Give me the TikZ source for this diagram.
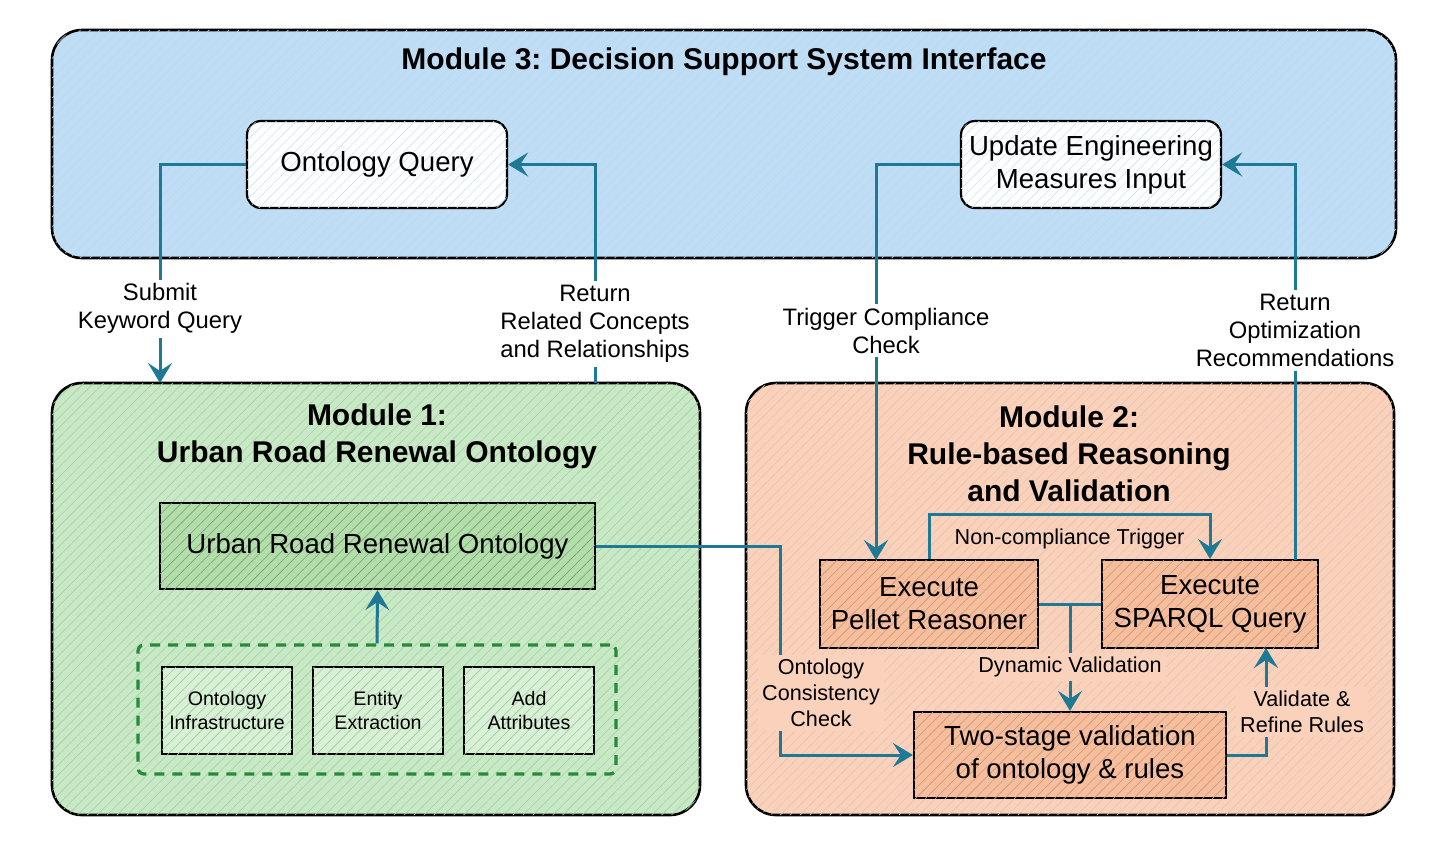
\documentclass[tikz,border=0pt]{standalone}
\usepackage{fontspec}
\setmainfont{Liberation Sans}
\usepackage{xcolor}
\usepackage{tikz}
\usetikzlibrary{arrows.meta, positioning, patterns.meta}
\definecolor{FlowTeal}{RGB}{30, 122, 148}
\definecolor{SysBlue}{RGB}{190, 221, 246}
\definecolor{OntoGreen}{RGB}{199, 234, 197}
\definecolor{OntoDark}{RGB}{178, 222, 170}
\definecolor{RuleSalmon}{RGB}{250, 210, 188}
\definecolor{RuleDark}{RGB}{247, 190, 157}
\definecolor{DashGreen}{RGB}{38, 138, 58}
\frenchspacing

\begin{document}
\begin{tikzpicture}[x=0.5pt, y=-0.5pt,
    hatch/.style={postaction={pattern={Lines[angle=45, distance=3.5pt, line width=0.3pt]}, pattern color=#1}},
    module/.style={draw=black, line width=1.3pt, rounded corners=15pt},
    modtitle/.style={font=\fontsize{15}{18.5}\selectfont\bfseries, align=center},
    uibox/.style={draw=black, line width=1.1pt, rounded corners=7pt, fill=white,
      hatch=SysBlue!80, font=\fontsize{13.8}{16.5}\selectfont, align=center,
      minimum width=130pt, minimum height=43.5pt, inner sep=1pt},
    stepbox/.style={draw=black, line width=1.1pt, font=\fontsize{13.8}{16.5}\selectfont,
      align=center, inner sep=1pt},
    smallbox/.style={draw=black, line width=1.1pt, fill=OntoGreen!70!white, hatch=OntoDark!90!black,
      font=\fontsize{9.8}{12}\selectfont, align=center,
      minimum width=65pt, minimum height=43.5pt, inner sep=1pt},
    flow/.style={draw=FlowTeal, line width=1.5pt, -{Stealth[length=10pt, width=12pt, inset=4pt]}},
    flowline/.style={draw=FlowTeal, line width=1.5pt},
    lbl/.style={font=\fontsize{11.9}{14}\selectfont, align=center, inner sep=2pt},
    lblsm/.style={font=\fontsize{10.8}{13}\selectfont, align=center, inner sep=2pt}
  ]
  \useasboundingbox[fill=white] (0,0) rectangle (1440,843);

  % module frames
  \node[module, fill=SysBlue, hatch=SysBlue!85!black!60, minimum width=672pt, minimum height=114pt] (m3) at (724,144) {};
  \node[module, fill=OntoGreen, hatch=OntoDark!80!black!70, minimum width=324pt, minimum height=216pt] (m1) at (376,599) {};
  \node[module, fill=RuleSalmon, hatch=RuleDark!90!black!70, minimum width=324pt, minimum height=216pt] (m2) at (1070,599) {};

  \node[modtitle] (t3) at (724,62) {Module 3: Decision Support System Interface};
  \node[modtitle] (t1) at (377,436) {Module 1:\\Urban Road Renewal Ontology};
  \node[modtitle] (t2) at (1069,454) {Module 2:\\Rule-based Reasoning\\and Validation};

  % module 3
  \node[uibox] (oq) at (377,164.5) {Ontology Query};
  \node[uibox] (ue) at (1091,164.5) {Update Engineering\\Measures Input};

  % module 1
  \node[stepbox, fill=OntoDark, hatch=OntoDark!70!black, minimum width=217.5pt, minimum height=43pt] (urro) at (377.5,546) {Urban Road Renewal Ontology};
  \node[draw=DashGreen, line width=1.6pt, dash pattern=on 5pt off 4pt, rounded corners=3pt,
    minimum width=239pt, minimum height=64.5pt] (grp) at (377,709.5) {};
  \node[smallbox] (oi) at (227,710.5) {Ontology\\Infrastructure};
  \node[smallbox] (ee) at (378,710.5) {Entity\\Extraction};
  \node[smallbox] (aa) at (529,710.5) {Add\\Attributes};

  % module 2
  \node[stepbox, fill=RuleDark, hatch=RuleDark!80!black, minimum width=109pt, minimum height=44pt] (pellet) at (929,604) {Execute\\Pellet Reasoner};
  \node[stepbox, fill=RuleDark, hatch=RuleDark!80!black, minimum width=108pt, minimum height=44pt] (sparql) at (1210,604) {Execute\\SPARQL Query};
  \node[stepbox, fill=RuleDark, hatch=RuleDark!80!black, minimum width=156pt, minimum height=43pt] (tv) at (1070,755) {Two-stage validation\\of ontology \& rules};

  \coordinate (kq) at (160,383);
  \coordinate (rc) at (595,383);
  \coordinate (tc) at (876,560);
  \coordinate (ro) at (1295,560);
  \coordinate (cc) at (780,650);
  \coordinate (vr) at (1266,648);

  % connectors
  \draw[flow] (oq.west) -| (kq) node[lbl, fill=white, pos=0.83] (kql) {Submit\\Keyword Query};
  \draw[flow] (rc) |- (oq.east) node[lbl, fill=white, pos=0.135] (rcl) {Return\\Related Concepts\\and Relationships};
  \draw[flow] (ue.west) -| (tc) node[lbl, fill=white, pos=0.71, xshift=5pt] (tcl) {Trigger Compliance\\Check};
  \draw[flow] (ro) |- (ue.east) node[lbl, fill=white, pos=0.29] (rol) {Return\\Optimization\\Recommendations};
  \draw[flow] (grp.north) -- (urro.south);
  \draw[flow] (pellet.north) -- ++(0,-44) -| (sparql.north) node[lblsm, pos=0.25, below=4pt] (nct) {Non-compliance Trigger};
  \draw[flowline] (pellet.east) -- (sparql.west);
  \draw[flow] (pellet.east -| tv.north) -- (tv.north) node[lblsm, fill=RuleSalmon, pos=0.59] (dvl) {Dynamic Validation};
  \draw[flow] (urro.east) -| (cc) |- (tv.west);
  \draw[flow] (tv.east) -| (vr);
  \node[lblsm, fill=RuleSalmon] (occ) at (821,693) {Ontology\\Consistency\\Check};
  \node[lblsm, fill=RuleSalmon] (vrl) at (1302,712) {Validate \&\\Refine Rules};
\end{tikzpicture}
\end{document}
